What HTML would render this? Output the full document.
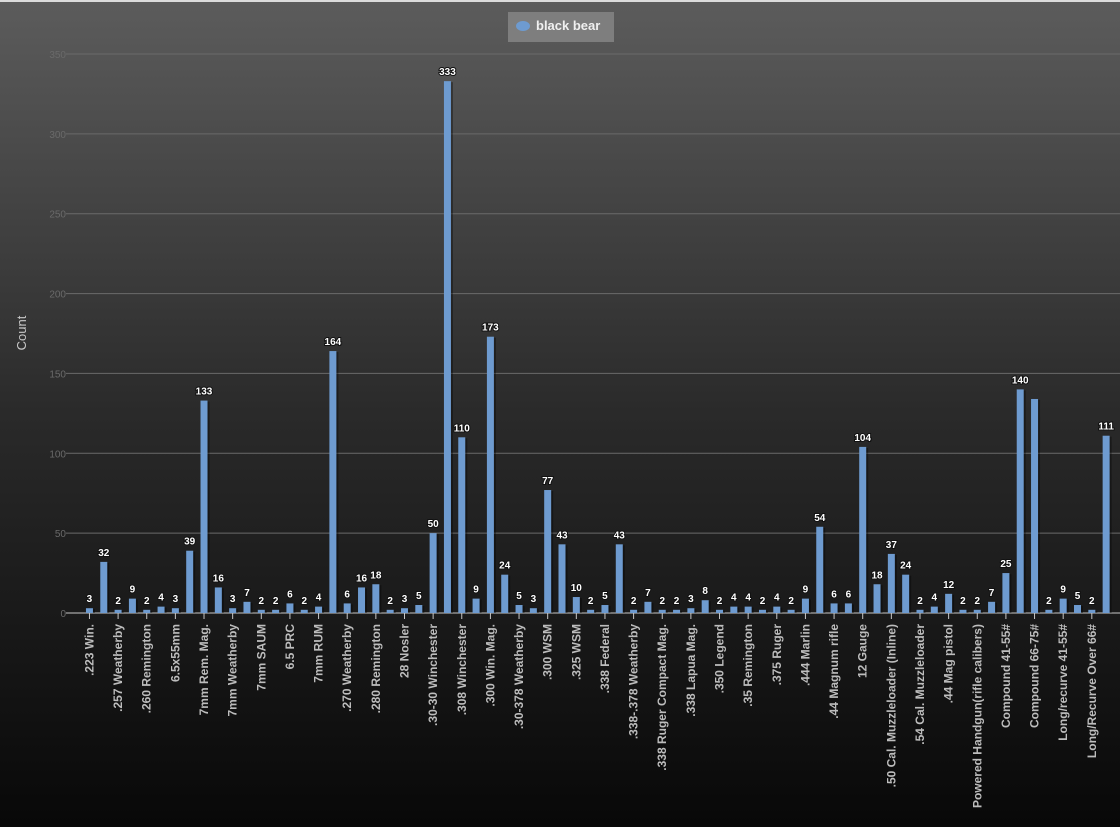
<!DOCTYPE html>
<html><head><meta charset="utf-8">
<style>
html,body{margin:0;padding:0;width:1120px;height:827px;overflow:hidden;background:#0a0a0a}
svg{display:block}
text{font-family:"Liberation Sans","DejaVu Sans",sans-serif}
</style></head>
<body>
<svg id="chart" width="1120" height="827" xmlns="http://www.w3.org/2000/svg">
<defs>
<linearGradient id="bg" x1="0" y1="0" x2="0" y2="1">
<stop offset="0" stop-color="#5c5c5c"/>
<stop offset="0.5" stop-color="#2a2a2a"/>
<stop offset="1" stop-color="#080808"/>
</linearGradient>
</defs>
<rect x="0" y="0" width="1120" height="827" fill="url(#bg)"/>
<rect x="0" y="0" width="1120" height="2" fill="#dcdcdc"/>
<g id="grid"></g>
<g id="bars"></g>
<g id="values"></g>
<g id="xlabels"></g>
<text x="26" y="333" fill="#c8c8c8" font-size="13" text-anchor="middle" transform="rotate(-90 26 333)">Count</text>
<g>
<rect x="508" y="12" width="106" height="30" fill="#7e7e7e"/>
<ellipse cx="523" cy="26" rx="7" ry="5" fill="#6e9bd0"/>
<text x="536" y="30" fill="#f0f0f0" font-size="13" font-weight="bold">black bear</text>
</g>
</svg>
<script>
const shownLabels = [".223 Win.",".257 Weatherby",".260 Remington","6.5x55mm","7mm Rem. Mag.","7mm Weatherby","7mm SAUM","6.5 PRC","7mm RUM",".270 Weatherby",".280 Remington","28 Nosler",".30-30 Winchester",".308 Winchester",".300 Win. Mag.",".30-378 Weatherby",".300 WSM",".325 WSM",".338 Federal",".338-.378 Weatherby",".338 Ruger Compact Mag.",".338 Lapua Mag.",".350 Legend",".35 Remington",".375 Ruger",".444 Marlin",".44 Magnum rifle","12 Gauge",".50 Cal. Muzzleloader (Inline)",".54 Cal. Muzzleloader",".44 Mag pistol","Powered Handgun(rifle calibers)","Compound 41-55#","Compound 66-75#","Long/recurve 41-55#","Long/Recurve Over 66#"];
const hiddenLabels = [".243 Win.",".25-06 Remington",".270 Win.","6.5 Creedmoor","7mm-08 Remington","7mm WSM","6.5-284 Norma","6.5 Rem. Mag.",".270 WSM",".280 Ackley",".284 Winchester",".30-06 Springfield",".300 RUM",".300 PRC",".300 Weatherby",".303 British",".300 SAUM",".32 Special",".338 Win. Mag.",".338 RUM",".340 Weatherby",".35 Whelen",".350 Rem. Mag.",".358 Winchester",".375 H&H",".45-70 Govt.","20 Gauge",".45 Cal. Muzzleloader",".50 Cal. Muzzleloader (Sidelock)","Crossbow",".454 Casull","Compound 40# or less","Compound 56-65#","Compound Over 75#","Long/recurve 56-65#","Traditional Other"];
const values = [3,32,2,9,2,4,3,39,133,16,3,7,2,2,6,2,4,164,6,16,18,2,3,5,50,333,110,9,173,24,5,3,77,43,10,2,5,43,2,7,2,2,3,8,2,4,4,2,4,2,9,54,6,6,104,18,37,24,2,4,12,2,2,7,25,140,134,2,9,5,2,111];
const yTicks = [0,50,100,150,200,250,300,350];
const hiddenValueLabels = [66];
const categories = [];
shownLabels.forEach((s, k) => { categories.push(s); categories.push(hiddenLabels[k]); });

const NS = "http://www.w3.org/2000/svg";
const plotLeft = 82.3, plotRight = 1113.3, y0 = 613, yTop = 54, yMax = 350;
const step = (plotRight - plotLeft) / values.length;
function xScale(i){ return plotLeft + step * (i + 0.5); }
function yScale(v){ return y0 - (v / yMax) * (y0 - yTop); }
function mk(tag, attrs, parent){ const e = document.createElementNS(NS, tag); for (const k in attrs) e.setAttribute(k, attrs[k]); parent.appendChild(e); return e; }

const grid = document.getElementById("grid");
yTicks.forEach(t => {
  const y = yScale(t);
  const l = mk("line", {x1: 66, x2: 1120, y1: y, y2: y, stroke: t === 0 ? "#c8c8c8" : "#6a6a6a", "stroke-width": 1}, grid);
  
  
  const tx = mk("text", {x: 66, y: y + 4, fill: "#6a6a6a", "font-size": 10, "text-anchor": "end"}, grid);
  tx.textContent = t;
  
  
});

const bars = document.getElementById("bars"), vals = document.getElementById("values"), xl = document.getElementById("xlabels");
values.forEach((v, i) => {
  const cx = xScale(i), y = yScale(v), w = 7;
  const sh = mk("rect", {x: cx - w/2 + 2, y: y + 1, width: w, height: y0 - y - 1, fill: "#000", opacity: 0.35}, bars);
  
  
  const r = mk("rect", {x: cx - w/2, y: y, width: w, height: y0 - y, fill: "#6e9bd0"}, bars);
  
  
  if (!hiddenValueLabels.includes(i)) {
    const t = mk("text", {x: cx, y: y - 6, fill: "#ffffff", "font-size": 10, "font-weight": "bold", "text-anchor": "middle", stroke: "#111", "stroke-width": 2, "paint-order": "stroke"}, vals);
    t.textContent = v;
    
    
  }
  if (i % 2 === 0) {
    const tk = mk("line", {x1: cx, x2: cx, y1: y0, y2: y0 + 6, stroke: "#c8c8c8", "stroke-width": 1}, xl);
    
    
    const lx = cx + 4, ly = 624;
    const t = mk("text", {x: lx, y: ly, fill: "#bdbdbd", "font-size": 12, "font-weight": "bold", "text-anchor": "end", transform: `rotate(-90 ${lx} ${ly})`}, xl);
    t.textContent = categories[i];
    
    
  }
});
</script>
</body></html>
